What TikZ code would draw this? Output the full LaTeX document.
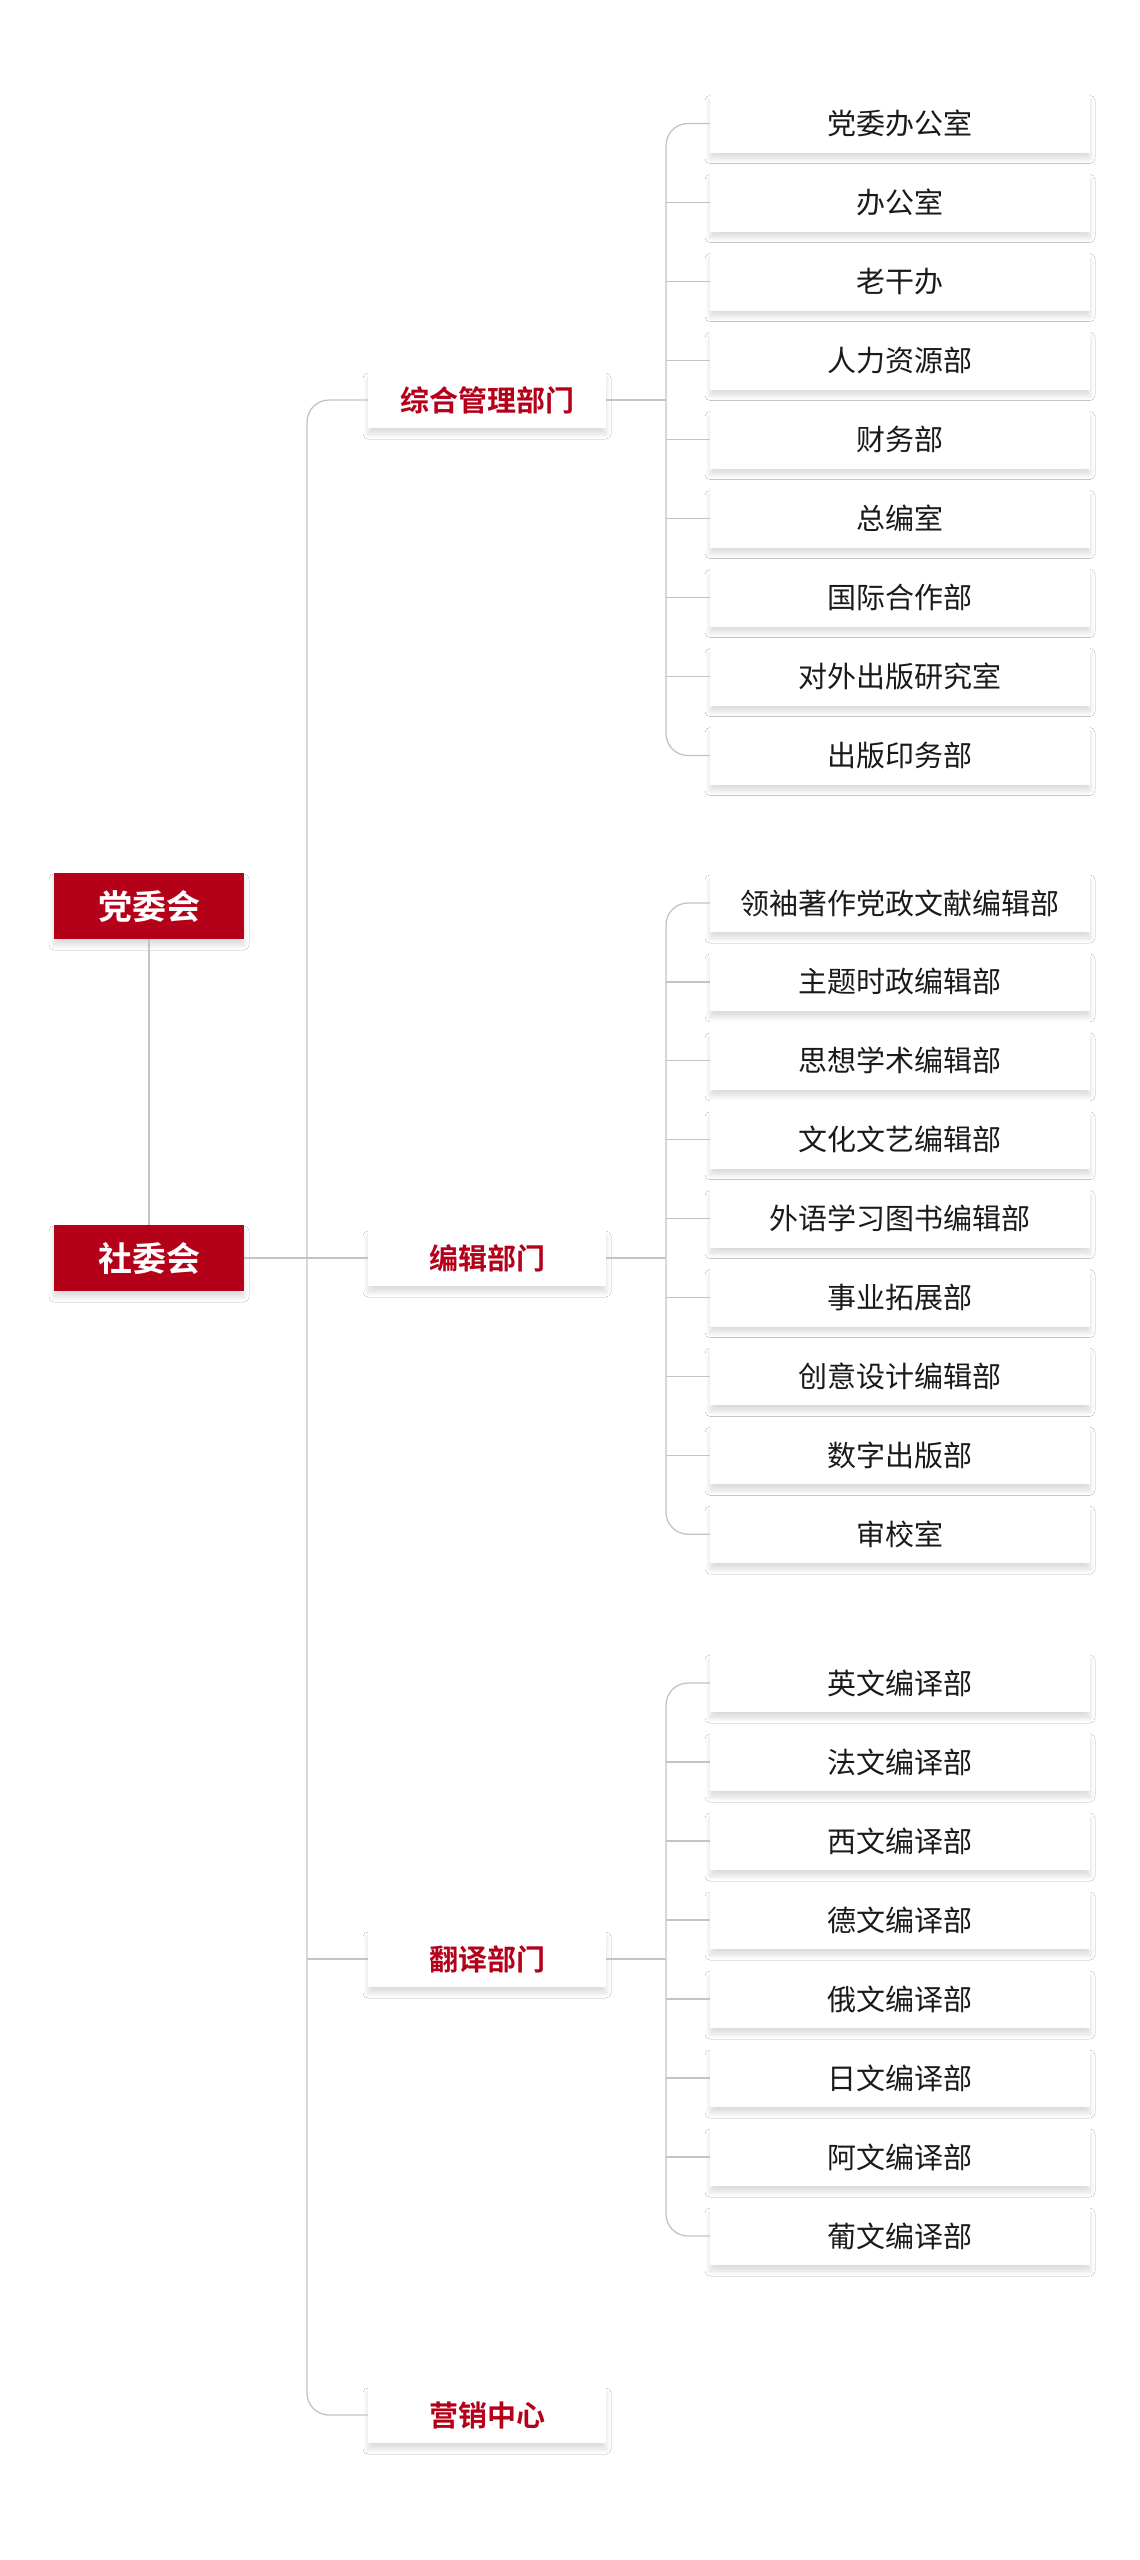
\documentclass[tikz,border=0pt]{standalone}
\usepackage{fontspec}
\usepackage{xcolor}
\usepackage{tikz}
\usetikzlibrary{calc,shadows.blur}
\newfontfamily\cjk{Noto Sans CJK SC}[BoldFont={Noto Sans CJK SC Bold}]
\definecolor{brand}{HTML}{B5001A}
\definecolor{wire}{HTML}{C4C4C4}
\definecolor{ink}{HTML}{1A1A1A}
\tikzset{
  shade/.style={blur shadow={shadow xshift=0pt, shadow yshift=-6pt, shadow blur radius=5pt, shadow blur steps=8, shadow opacity=14}},
  board/.style={shade, fill=brand, text=white, minimum width=190pt, minimum height=66pt, inner sep=0pt, font=\cjk\bfseries\fontsize{34}{40}\selectfont},
  dept/.style={shade, fill=white, text=brand, minimum width=238pt, minimum height=56pt, inner sep=0pt, font=\cjk\bfseries\fontsize{29}{34}\selectfont},
  unit/.style={shade, fill=white, text=ink, minimum width=380pt, minimum height=58pt, inner sep=0pt, font=\cjk\fontsize{29}{34}\selectfont},
  link/.style={draw=wire, line width=1.3pt},
  elbow/.style={link, rounded corners=22pt}
}

\begin{document}
\begin{tikzpicture}[x=1pt, y=-1pt]
  % 1 unit = 1 px of the 1140 x 2560 sheet
  \useasboundingbox[fill=white] (0,0) rectangle (1140,2560);
  \coordinate (tx) at (307,0);   % trunk
  \coordinate (bx) at (666,0);   % branches

  % boards
  \node[board] (dw) at (149,906)  {党委会};
  \node[board] (sw) at (149,1258) {社委会};

  % departments
  \node[dept] (zh) at (487,400)  {综合管理部门};
  \node[dept] (bj) at (487,1258) {编辑部门};
  \node[dept] (fy) at (487,1959) {翻译部门};
  \node[dept] (yx) at (487,2415) {营销中心};

  % units
  \foreach \t [count=\i] in {党委办公室,办公室,老干办,人力资源部,财务部,总编室,国际合作部,对外出版研究室,出版印务部}
    \node[unit] (a\i) at (900,{123.5+(\i-1)*79}) {\t};
  \foreach \t [count=\i] in {领袖著作党政文献编辑部,主题时政编辑部,思想学术编辑部,文化文艺编辑部,外语学习图书编辑部,事业拓展部,创意设计编辑部,数字出版部,审校室}
    \node[unit] (b\i) at (900,{903+(\i-1)*78.9}) {\t};
  \foreach \t [count=\i] in {英文编译部,法文编译部,西文编译部,德文编译部,俄文编译部,日文编译部,阿文编译部,葡文编译部}
    \node[unit] (c\i) at (900,{1683+(\i-1)*79}) {\t};

  % board links
  \draw[link] (dw) -- (sw);
  \draw[link] (sw.east) -- (bj.west);
  \draw[elbow] (zh.west) -- (zh.west -| tx) -- (yx.west -| tx) -- (yx.west);
  \draw[link] (fy.west -| tx) -- (fy.west);

  % department brackets
  \draw[link] (zh.east) -- (zh.east -| bx);
  \draw[elbow] (a1.west) -- (a1.west -| bx) -- (a9.west -| bx) -- (a9.west);
  \foreach \i in {2,...,8} \draw[link] (a\i.west -| bx) -- (a\i.west);
  \draw[link] (bj.east) -- (bj.east -| bx);
  \draw[elbow] (b1.west) -- (b1.west -| bx) -- (b9.west -| bx) -- (b9.west);
  \foreach \i in {2,...,8} \draw[link] (b\i.west -| bx) -- (b\i.west);
  \draw[link] (fy.east) -- (fy.east -| bx);
  \draw[elbow] (c1.west) -- (c1.west -| bx) -- (c8.west -| bx) -- (c8.west);
  \foreach \i in {2,...,7} \draw[link] (c\i.west -| bx) -- (c\i.west);
\end{tikzpicture}
\end{document}
